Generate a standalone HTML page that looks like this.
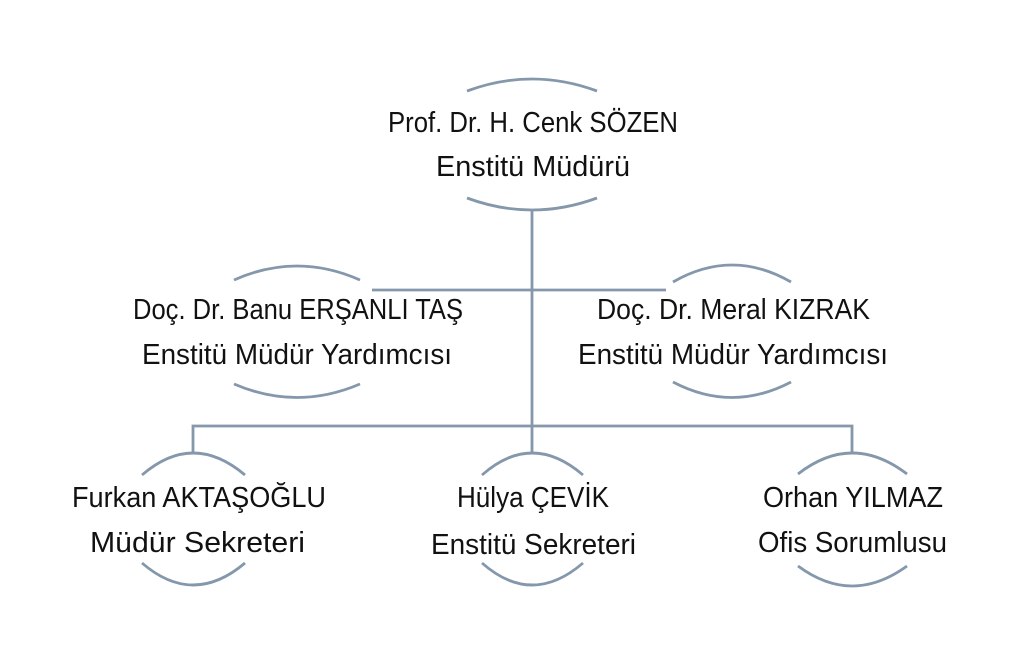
<!DOCTYPE html>
<html><head><meta charset="utf-8"><style>
html,body{margin:0;padding:0;background:#fff;}
svg{display:block;}
text{font-family:"Liberation Sans",sans-serif;font-size:29px;fill:#111;}
</style></head><body>
<svg width="1024" height="648" viewBox="0 0 1024 648" xmlns="http://www.w3.org/2000/svg">
<g stroke="#8497ab" stroke-width="2.8" fill="none">
<path d="M532 210 V426"/>
<path d="M372 290 H666"/>
<path d="M193 454 V426 H852 V454"/>
<path d="M532 426 V454"/>
<path d="M467 91 Q532 67 597 91"/>
<path d="M467 198 Q532 222 597 198"/>
<path d="M234 280 Q297 252 360 280"/>
<path d="M234 384 Q297 411 360 384"/>
<path d="M673 282 Q732 248 791 282"/>
<path d="M673 382 Q732 413 791 382"/>
<path d="M142 475 Q193 431 245 475"/>
<path d="M142 563 Q193 607 245 563"/>
<path d="M482 475 Q532 431 583 475"/>
<path d="M482 563 Q532 607 583 563"/>
<path d="M798 474 Q852 432 907 474"/>
<path d="M798 566 Q852 606 907 566"/>
</g>
<g>
<text x="388" y="132" textLength="290" lengthAdjust="spacingAndGlyphs">Prof. Dr. H. Cenk SÖZEN</text>
<text x="436" y="176" textLength="194" lengthAdjust="spacingAndGlyphs">Enstitü Müdürü</text>
<text x="133" y="319" textLength="330" lengthAdjust="spacingAndGlyphs">Doç. Dr. Banu ERŞANLI TAŞ</text>
<text x="142" y="364" textLength="310" lengthAdjust="spacingAndGlyphs">Enstitü Müdür Yardımcısı</text>
<text x="597" y="319" textLength="273" lengthAdjust="spacingAndGlyphs">Doç. Dr. Meral KIZRAK</text>
<text x="578" y="364" textLength="310" lengthAdjust="spacingAndGlyphs">Enstitü Müdür Yardımcısı</text>
<text x="72" y="507" textLength="254" lengthAdjust="spacingAndGlyphs">Furkan AKTAŞOĞLU</text>
<text x="90" y="552" textLength="215" lengthAdjust="spacingAndGlyphs">Müdür Sekreteri</text>
<text x="457" y="507" textLength="152" lengthAdjust="spacingAndGlyphs">Hülya ÇEVİK</text>
<text x="431" y="554" textLength="205" lengthAdjust="spacingAndGlyphs">Enstitü Sekreteri</text>
<text x="763" y="507" textLength="180" lengthAdjust="spacingAndGlyphs">Orhan YILMAZ</text>
<text x="758" y="552" textLength="189" lengthAdjust="spacingAndGlyphs">Ofis Sorumlusu</text>
</g>
</svg>
</body></html>
